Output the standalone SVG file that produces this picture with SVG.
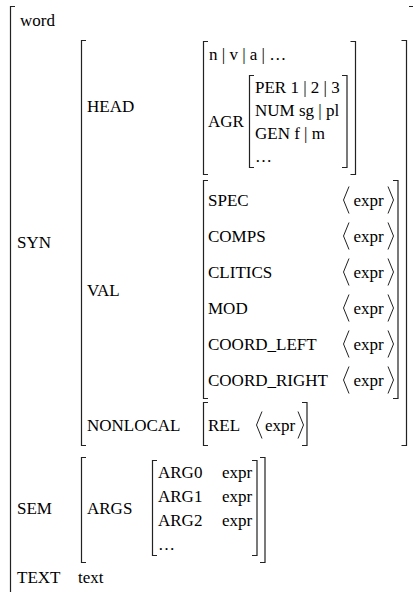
<svg xmlns="http://www.w3.org/2000/svg" width="413" height="592" viewBox="0 0 413 592">
<style>
text{font-family:"Liberation Serif","Times New Roman",serif;font-size:17px;fill:#000}
.b{fill:none;stroke:#222;stroke-width:1.2}
.a{fill:none;stroke:#222;stroke-width:1}
.m{text-anchor:middle}
</style>
<rect width="413" height="592" fill="#fff"/>
<g id="word-avm">
  <path class="b" d="M15,6.5H10.5V600"/>
  <path class="b" d="M409,6.5H414.5V600"/>
  <text x="20" y="26">word</text>
</g>
<g id="syn">
  <text x="17" y="248">SYN</text>
  <path class="b" d="M86,40.5H81.5V445.5H86"/>
  <path class="b" d="M401.5,40.5H406.5V445.5H401.5"/>
</g>
<g id="head">
  <text x="87" y="112">HEAD</text>
  <path class="b" d="M208,41.5H203.5V174.5H208"/>
  <path class="b" d="M350.5,41.5H355.5V174.5H350.5"/>
  <text x="209" y="60">n | v | a | …</text>
  <text x="208" y="127">AGR</text>
</g>
<g id="agr">
  <path class="b" d="M254,75.5H249.5V167.5H254"/>
  <path class="b" d="M342,75.5H347V167.5H342"/>
  <text x="255" y="93">PER 1 | 2 | 3</text>
  <text x="255" y="116">NUM sg | pl</text>
  <text x="255" y="139">GEN f | m</text>
  <text x="255" y="162">…</text>
</g>
<g id="val">
  <text x="87" y="296">VAL</text>
  <path class="b" d="M208,180.5H203.5V398.5H208"/>
  <path class="b" d="M393,180.5H398V398.5H393"/>
  <text x="208" y="206">SPEC</text>
  <text x="208" y="242">COMPS</text>
  <text x="208" y="278">CLITICS</text>
  <text x="208" y="314">MOD</text>
  <text x="208" y="350">COORD_LEFT</text>
  <text x="208" y="386">COORD_RIGHT</text>
  <g id="val-values">
    <text class="m" x="368.5" y="206">expr</text>
    <text class="m" x="368.5" y="242">expr</text>
    <text class="m" x="368.5" y="278">expr</text>
    <text class="m" x="368.5" y="314">expr</text>
    <text class="m" x="368.5" y="350">expr</text>
    <text class="m" x="368.5" y="386">expr</text>
    <path class="a" d="M349,186.5L343.5,200L349,213.5M388,186.5L393.5,200L388,213.5"/>
    <path class="a" d="M349,222.5L343.5,236L349,249.5M388,222.5L393.5,236L388,249.5"/>
    <path class="a" d="M349,258.5L343.5,272L349,285.5M388,258.5L393.5,272L388,285.5"/>
    <path class="a" d="M349,294.5L343.5,308L349,321.5M388,294.5L393.5,308L388,321.5"/>
    <path class="a" d="M349,330.5L343.5,344L349,357.5M388,330.5L393.5,344L388,357.5"/>
    <path class="a" d="M349,366.5L343.5,380L349,393.5M388,366.5L393.5,380L388,393.5"/>
  </g>
</g>
<g id="nonlocal">
  <text x="87" y="431">NONLOCAL</text>
  <path class="b" d="M208,402.5H203.5V445.5H208"/>
  <path class="b" d="M302,402.5H307V445.5H302"/>
  <text x="208" y="431">REL</text>
  <text class="m" x="280" y="431">expr</text>
  <path class="a" d="M262,411.5L256.5,425L262,438.5M298,411.5L303.5,425L298,438.5"/>
</g>
<g id="sem">
  <text x="17" y="514">SEM</text>
  <path class="b" d="M86,457.5H81.5V562.5H86"/>
  <path class="b" d="M260,457.5H265V562.5H260"/>
  <text x="87" y="514">ARGS</text>
</g>
<g id="args">
  <path class="b" d="M157,460.5H152.5V555.5H157"/>
  <path class="b" d="M252,460.5H257V555.5H252"/>
  <text x="158" y="478">ARG0</text>
  <text x="158" y="502">ARG1</text>
  <text x="158" y="526">ARG2</text>
  <text x="158" y="550">…</text>
  <text x="222" y="478">expr</text>
  <text x="222" y="502">expr</text>
  <text x="222" y="526">expr</text>
</g>
<g id="text-feat">
  <text x="17" y="583">TEXT</text>
  <text x="78" y="583">text</text>
</g>
</svg>
